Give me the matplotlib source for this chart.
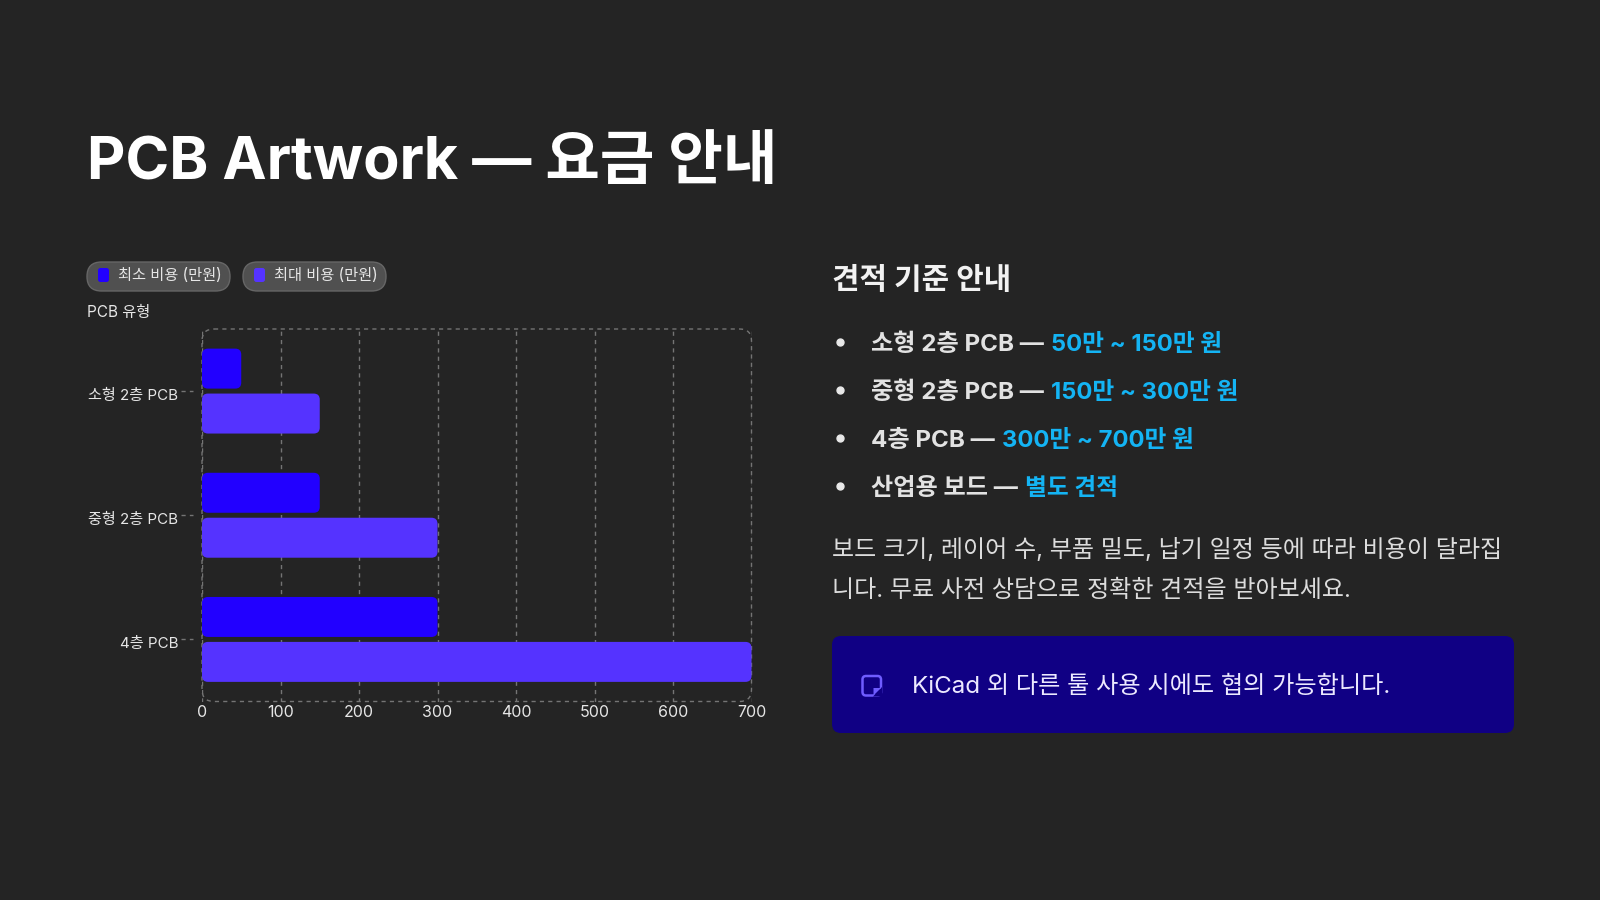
import matplotlib
matplotlib.use("Agg")
import matplotlib.pyplot as plt
from matplotlib.patches import FancyBboxPatch, Polygon
from matplotlib.transforms import ScaledTranslation

plt.rcParams['font.family'] = ['Inter', 'Noto Sans CJK KR', 'DejaVu Sans']

categories = ['소형 2층 PCB', '중형 2층 PCB', '4층 PCB']
min_cost = [50, 150, 300]
max_cost = [150, 300, 700]
x_ticks = [0, 100, 200, 300, 400, 500, 600, 700]
legend_labels = ['최소 비용 (만원)', '최대 비용 (만원)']
axis_title = 'PCB 유형'

title = 'PCB Artwork — 요금 안내'
side_heading = '견적 기준 안내'
price_names = ['소형 2층 PCB — ', '중형 2층 PCB — ', '4층 PCB — ', '산업용 보드 — ']
price_values = ['50만 ~ 150만 원', '150만 ~ 300만 원', '300만 ~ 700만 원', '별도 견적']
body_lines = ['보드 크기, 레이어 수, 부품 밀도, 납기 일정 등에 따라 비용이 달라집',
              '니다. 무료 사전 상담으로 정확한 견적을 받아보세요.']
note = 'KiCad 외 다른 툴 사용 시에도 협의 가능합니다.'

BG = '#242424'
MIN_COLOR = '#2200ff'
MAX_COLOR = '#5533ff'
CYAN = '#14b4f4'
GRID = '#747474'

fig = plt.figure(figsize=(16, 9), dpi=100, facecolor=BG)

# overlay in pixel coordinates for the slide text
page = fig.add_axes([0, 0, 1, 1], zorder=3)
page.set_xlim(0, 1600)
page.set_ylim(900, 0)
page.axis('off')

# chart area
AX_L, AX_R, AX_T, AX_B = 202, 751.5, 329, 701.5
ax = fig.add_axes([AX_L / 1600, 1 - AX_B / 900, (AX_R - AX_L) / 1600, (AX_B - AX_T) / 900], zorder=2)
ax.set_facecolor('none')
ax.set_xlim(0, 700)
ax.set_ylim(2.5, -0.5)
for s in ax.spines.values():
    s.set_visible(False)

ax.set_xticks(x_ticks)
ax.set_yticks(range(len(categories)))
ax.set_yticklabels(categories)
ax.tick_params(axis='x', length=0, pad=2.8, labelsize=11.5, labelcolor='#e6e6e6')
ax.tick_params(axis='y', length=0, pad=17, labelsize=10.9, labelcolor='#e6e6e6')
ax.grid(axis='x', color=GRID, lw=1, ls=(0, (3, 3)), zorder=1)
ax.set_axisbelow(True)

# y labels sit a little under their tick
nudge = ScaledTranslation(0, -3 / 100, fig.dpi_scale_trans)
for lab in ax.get_yticklabels():
    lab.set_transform(lab.get_transform() + nudge)

x_unit = (AX_R - AX_L) / 700
y_unit = (AX_B - AX_T) / 3

# dashed tick stubs left of the axis
for i in range(len(categories)):
    ax.plot([-21 / x_unit, -9 / x_unit], [i, i], color=GRID, lw=1, ls=(0, (3, 3)), clip_on=False)

# dashed rounded frame
ax.add_patch(FancyBboxPatch((0, -0.5), 700, 3, boxstyle=f'round,pad=0,rounding_size={12 / x_unit}',
                            mutation_aspect=x_unit / y_unit, fill=False, ec=GRID, lw=1,
                            ls=(0, (3, 3)), clip_on=False, zorder=1))


def round_bar(y, value, color):
    r = 6 / x_unit
    ax.add_patch(FancyBboxPatch((0, y), value, 0.322, boxstyle=f'round,pad=0,rounding_size={r}',
                                mutation_aspect=x_unit / y_unit, fc=color, ec='none', clip_on=False, zorder=2))


for i in range(len(categories)):
    round_bar(i - 0.342, min_cost[i], MIN_COLOR)
    round_bar(i + 0.02, max_cost[i], MAX_COLOR)

# title
page.text(87, 163, title, color='white', fontsize=42.7, fontweight='bold', va='center', ha='left')

# legend pills
pills = [(87, 143, MIN_COLOR), (243, 143, MAX_COLOR)]
for (px, pw, col), lab in zip(pills, legend_labels):
    page.add_patch(FancyBboxPatch((px, 262), pw, 29, boxstyle='round,pad=0,rounding_size=14.5',
                                  fc='#505050', ec='#666666', lw=1))
    page.add_patch(FancyBboxPatch((px + 11, 268), 11, 14, boxstyle='round,pad=0,rounding_size=2.5',
                                  fc=col, ec='none'))
    page.text(px + 31, 276, lab, color='#e6e6e6', fontsize=11, va='center', ha='left')
page.text(87, 313, axis_title, color='#e6e6e6', fontsize=11, va='center', ha='left')

# right column
page.text(832, 281, side_heading, color='#f2f2f2', fontsize=21.5, fontweight='bold', va='center', ha='left')

renderer = fig.canvas.get_renderer()
rows_y = [345, 393, 441, 489]
for y, name, val in zip(rows_y, price_names, price_values):
    page.plot([840], [y - 3], 'o', ms=5, color='#e8e8e8')
    t = page.text(871, y, name, color='#e2e2e2', fontsize=17.4, fontweight='bold', va='center', ha='left')
    bb = t.get_window_extent(renderer)
    page.text(bb.x1 + 1, y, val, color=CYAN, fontsize=17.1, fontweight='bold', va='center', ha='left')

page.text(832, 550, body_lines[0], color='#dcdcdc', fontsize=17.3, va='center', ha='left')
page.text(832, 591, body_lines[1], color='#dcdcdc', fontsize=17.3, va='center', ha='left')

# note box
page.add_patch(FancyBboxPatch((832, 636), 682, 97, boxstyle='round,pad=0,rounding_size=9',
                              fc='#100084', ec='none'))
page.add_patch(FancyBboxPatch((862.5, 676), 18.5, 19.5, boxstyle='round,pad=0,rounding_size=3.5',
                              fc='none', ec='#6f5cff', lw=1.8))
page.add_patch(Polygon([(882, 687), (873, 696.5), (882, 696.5)], closed=True, fc='#100084', ec='none'))
page.add_patch(Polygon([(881, 688), (873.5, 695.5), (873.5, 688)], closed=True, fc='#6f5cff', ec='none'))
page.text(912, 687, note, color='#ece9ff', fontsize=17.4, va='center', ha='left')

fig.savefig('out.png', dpi=100, facecolor=BG)
